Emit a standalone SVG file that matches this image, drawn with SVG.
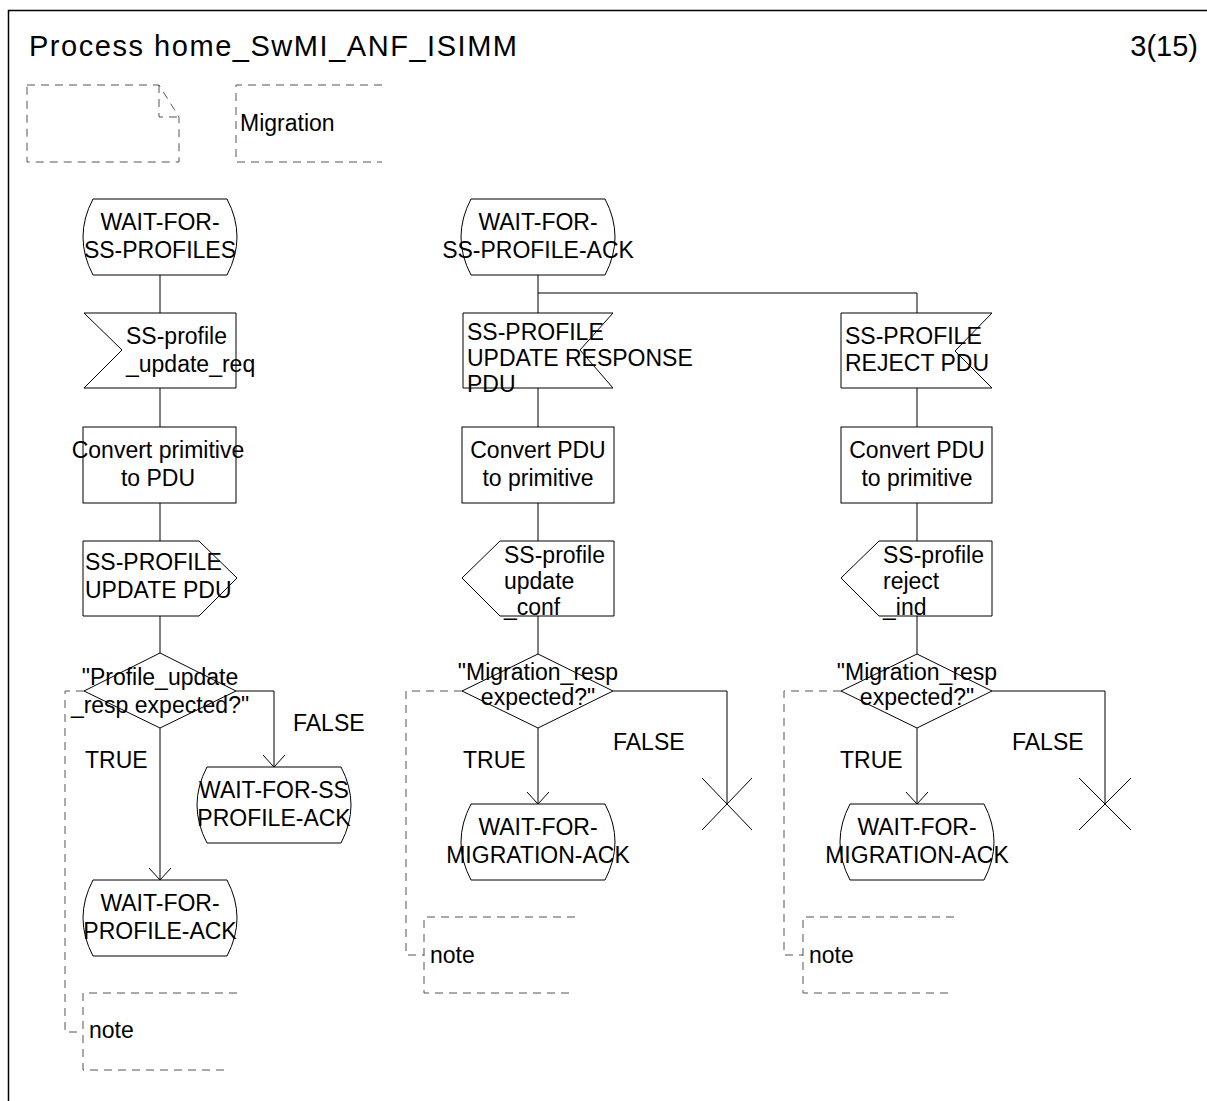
<svg xmlns="http://www.w3.org/2000/svg" width="1207" height="1101" viewBox="0 0 1207 1101">
<defs>
<style>
text{font-family:"Liberation Sans",Arial,sans-serif;font-size:23px;fill:#000}
.c{text-anchor:middle}
.sh{fill:#fff;stroke:#000;stroke-width:1}
.ln{fill:none;stroke:#000;stroke-width:1}
.ds{fill:none;stroke:#555;stroke-width:1;stroke-dasharray:8 6}
</style>
<marker id="arr" viewBox="-13 -12 14 24" refX="0" refY="0" markerWidth="14" markerHeight="24" markerUnits="userSpaceOnUse" orient="auto">
<path d="M-12,-11 L0,0 L-12,11" fill="none" stroke="#000" stroke-width="1"/>
</marker>
</defs>
<rect width="1207" height="1101" fill="#fff"/>
<rect x="8.5" y="10.5" width="1210" height="1110" fill="none" stroke="#000" stroke-width="1.5"/>
<text x="29" y="56" style="font-size:29px" textLength="488" lengthAdjust="spacing">Process home_SwMI_ANF_ISIMM</text>
<text x="1198" y="56" style="font-size:29px;text-anchor:end">3(15)</text>

<g id="page-symbol"><path class="ds" d="M27,85 H159 L179,117 V162 H27 Z M159,85 V117 H179"/></g>
<g id="text-migration"><path class="ds" d="M382,85 H236 V162 H382"/><text x="240" y="131">Migration</text></g>

<g id="connectors">
<path class="ln" d="M160,275 V313 M160,388 V427 M160,503 V541 M160,616 V653"/>
<path class="ln" d="M160,728 V880" marker-end="url(#arr)"/>
<path class="ln" d="M236,691 H274 V767" marker-end="url(#arr)"/>
<path class="ln" d="M538,275 V313 M538,293 H917 V313 M538,388 V427 M538,503 V541 M538,616 V654 M917,388 V427 M917,503 V541 M917,616 V654"/>
<path class="ln" d="M538,728 V804" marker-end="url(#arr)"/>
<path class="ln" d="M917,728 V804" marker-end="url(#arr)"/>
<path class="ln" d="M613,691 H727 V804 M702,778 L752,830 M752,778 L702,830"/>
<path class="ln" d="M992,691 H1105 V804 M1079,778 L1131,830 M1131,778 L1079,830"/>
<path class="ds" d="M84,691 H65 V1032 H83"/>
<path class="ds" d="M462,691 H406 V955 H424"/>
<path class="ds" d="M841,691 H784 V955 H803"/>
</g>

<g id="state-wait-ss-profiles"><path class="sh" d="M93,199 H227 Q247,237 227,275 H93 Q73,237 93,199 Z"/><text class="c" x="160" y="230">WAIT-FOR-</text><text class="c" x="160" y="258">SS-PROFILES</text></g>
<g id="input-ss-profile-update-req"><path class="sh" d="M84,313 H236 V388 H84 L122,350 Z"/><text x="126" y="344">SS-profile</text><text x="126" y="372">_update_req</text></g>
<g id="task-convert-prim"><rect class="sh" x="83" y="427" width="153" height="76"/><text class="c" x="158" y="458">Convert primitive</text><text class="c" x="158" y="486">to PDU</text></g>
<g id="output-update-pdu"><path class="sh" d="M83,541 H199 L237,578 L199,616 H83 Z"/><text x="85" y="570">SS-PROFILE</text><text x="85" y="598">UPDATE PDU</text></g>
<g id="decision-profile-update"><path class="sh" d="M160,653 L236,691 L160,728 L84,691 Z"/><text class="c" x="160" y="685">"Profile_update</text><text class="c" x="160" y="713">_resp expected?"</text></g>
<text x="293" y="731">FALSE</text>
<text x="85" y="768">TRUE</text>
<g id="state-wait-ss-profile-ack-2"><path class="sh" d="M207,767 H341 Q361,805 341,843 H207 Q187,805 207,767 Z"/><text class="c" x="274" y="798">WAIT-FOR-SS</text><text class="c" x="274" y="826">PROFILE-ACK</text></g>
<g id="state-wait-profile-ack"><path class="sh" d="M93,880 H227 Q247,918 227,956 H93 Q73,918 93,880 Z"/><text class="c" x="160" y="911">WAIT-FOR-</text><text class="c" x="160" y="939">PROFILE-ACK</text></g>
<g id="note-1"><path class="ds" d="M237,993 H83 V1070 H230"/><text x="89" y="1038">note</text></g>

<g id="state-wait-ss-profile-ack"><path class="sh" d="M471,199 H605 Q625,237 605,275 H471 Q451,237 471,199 Z"/><text class="c" x="538" y="230">WAIT-FOR-</text><text class="c" x="538" y="258">SS-PROFILE-ACK</text></g>
<g id="input-update-response"><path class="sh" d="M463,313 H613 L580,350 L613,388 H463 Z"/><text x="467" y="340">SS-PROFILE</text><text x="467" y="366">UPDATE RESPONSE</text><text x="467" y="392">PDU</text></g>
<g id="task-convert-pdu-1"><rect class="sh" x="462" y="427" width="152" height="76"/><text class="c" x="538" y="458">Convert PDU</text><text class="c" x="538" y="486">to primitive</text></g>
<g id="output-update-conf"><path class="sh" d="M462,578 L500,541 H614 V616 H500 Z"/><text x="504" y="563">SS-profile</text><text x="504" y="589">update</text><text x="504" y="615">_conf</text></g>
<g id="decision-migration-1"><path class="sh" d="M538,654 L613,691 L538,728 L462,691 Z"/><text class="c" x="538" y="680">"Migration_resp</text><text class="c" x="538" y="705">expected?"</text></g>
<text x="613" y="750">FALSE</text>
<text x="463" y="768">TRUE</text>
<g id="state-wait-migration-ack-1"><path class="sh" d="M471,804 H605 Q625,842 605,880 H471 Q451,842 471,804 Z"/><text class="c" x="538" y="835">WAIT-FOR-</text><text class="c" x="538" y="863">MIGRATION-ACK</text></g>
<g id="note-2"><path class="ds" d="M575,917 H424 V993 H570"/><text x="430" y="963">note</text></g>

<g id="input-reject-pdu"><path class="sh" d="M841,313 H992 L955,351 L992,388 H841 Z"/><text x="845" y="344">SS-PROFILE</text><text x="845" y="371">REJECT PDU</text></g>
<g id="task-convert-pdu-2"><rect class="sh" x="841" y="427" width="151" height="76"/><text class="c" x="917" y="458">Convert PDU</text><text class="c" x="917" y="486">to primitive</text></g>
<g id="output-reject-ind"><path class="sh" d="M841,578 L879,541 H992 V616 H879 Z"/><text x="883" y="563">SS-profile</text><text x="883" y="589">reject</text><text x="883" y="615">_ind</text></g>
<g id="decision-migration-2"><path class="sh" d="M917,654 L992,691 L917,728 L841,691 Z"/><text class="c" x="917" y="680">"Migration_resp</text><text class="c" x="917" y="705">expected?"</text></g>
<text x="1012" y="750">FALSE</text>
<text x="840" y="768">TRUE</text>
<g id="state-wait-migration-ack-2"><path class="sh" d="M850,804 H984 Q1004,842 984,880 H850 Q830,842 850,804 Z"/><text class="c" x="917" y="835">WAIT-FOR-</text><text class="c" x="917" y="863">MIGRATION-ACK</text></g>
<g id="note-3"><path class="ds" d="M954,917 H803 V993 H950"/><text x="809" y="963">note</text></g>
</svg>
